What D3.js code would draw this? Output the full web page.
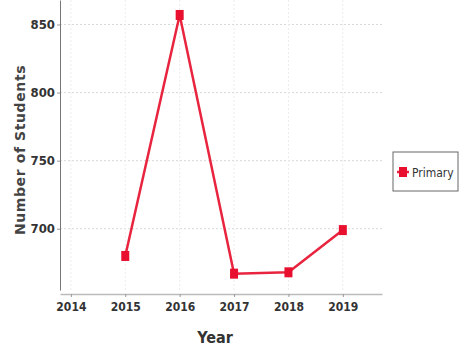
<!DOCTYPE html>
<html>
<head>
<meta charset="utf-8">
<script src="https://cdn.jsdelivr.net/npm/d3@7"></script>
<style>
  body { margin: 0; background: #fff; }
  text { font-family: "DejaVu Sans Condensed", "Liberation Sans Narrow", sans-serif; font-stretch: condensed; }
</style>
</head>
<body>
<div id="chart"></div>
<script>
const years = [2015, 2016, 2017, 2018, 2019];
const students = [680, 857, 667, 668, 699];
const xTicks = [2014, 2015, 2016, 2017, 2018, 2019];
const yTicks = [700, 750, 800, 850];
const seriesName = "Primary";

const W = 463, H = 347;
const margin = { top: 0, right: 81, bottom: 57, left: 60 };
const width = W - margin.left - margin.right;
const height = H - margin.top - margin.bottom;

const svg = d3.select("#chart")
  .append("svg")
    .attr("width", W)
    .attr("height", H);

const g = svg.append("g")
    .attr("transform", `translate(${margin.left},${margin.top})`);

const x = d3.scaleLinear()
    .domain([2013.8, 2019.72])
    .range([0, width]);

const y = d3.scaleLinear()
    .domain([655, 868])
    .range([height, 0]);

// grid
g.append("g")
  .selectAll("line")
  .data(yTicks)
  .join("line")
    .attr("x1", 0).attr("x2", width)
    .attr("y1", d => y(d)).attr("y2", d => y(d))
    .attr("stroke", "#d8d8d8")
    .attr("stroke-dasharray", "2,2");

g.append("g")
  .selectAll("line")
  .data(xTicks)
  .join("line")
    .attr("x1", d => x(d)).attr("x2", d => x(d))
    .attr("y1", 0).attr("y2", height)
    .attr("stroke", "#ececec")
    .attr("stroke-dasharray", "2,2");

// y axis
const yAxis = g.append("g")
    .call(d3.axisLeft(y).tickValues(yTicks).tickSize(3).tickSizeOuter(0));
yAxis.select(".domain").attr("stroke", "#777");
yAxis.selectAll(".tick line").attr("stroke", "#999");
yAxis.selectAll(".tick text")
    .attr("x", -5)
    .style("font-family", "'DejaVu Sans Condensed', sans-serif")
    .style("font-size", "13px")
    .style("font-weight", "bold")
    .attr("fill", "#333");

// x axis
const xAxis = g.append("g")
    .attr("transform", `translate(0,${height + 4})`)
    .call(d3.axisBottom(x).tickValues(xTicks).tickFormat(d3.format("d")).tickSize(3).tickSizeOuter(0));
xAxis.select(".domain").attr("stroke", "#bbb").attr("stroke-width", 1.5);
xAxis.selectAll(".tick line").attr("stroke", "#999");
xAxis.selectAll(".tick text")
    .attr("y", 8)
    .style("font-family", "'DejaVu Sans Condensed', sans-serif")
    .style("font-size", "12px")
    .style("font-weight", "bold")
    .attr("fill", "#333");

// axis titles
svg.append("text")
    .attr("transform", "rotate(-90)")
    .attr("x", -150)
    .attr("y", 25)
    .style("text-anchor", "middle")
    .style("font-family", "'DejaVu Sans', sans-serif")
    .style("font-stretch", "normal")
    .style("font-size", "14px")
    .style("font-weight", "bold")
    .style("letter-spacing", "0.6px")
    .attr("fill", "#444")
    .text("Number of Students");

svg.append("text")
    .attr("x", 215)
    .attr("y", 343)
    .style("text-anchor", "middle")
    .style("font-family", "'DejaVu Sans Condensed', sans-serif")
    .style("font-size", "16px")
    .style("font-weight", "bold")
    .attr("fill", "#333")
    .text("Year");

// line + markers
const data = years.map((yr, i) => ({ year: yr, value: students[i] }));
const red = "#e8243f";

g.append("path")
    .datum(data)
    .attr("fill", "none")
    .attr("stroke", red)
    .attr("stroke-width", 2.5)
    .attr("d", d3.line().x(d => x(d.year)).y(d => y(d.value)));

g.selectAll("rect.pt")
  .data(data)
  .join("rect")
    .attr("class", "pt")
    .attr("x", d => x(d.year) - 4)
    .attr("y", d => y(d.value) - 5)
    .attr("width", 8)
    .attr("height", 10)
    .attr("fill", "#e8102e");

// legend
const leg = svg.append("g").attr("transform", "translate(393,152)");
leg.append("rect")
    .attr("width", 65).attr("height", 39)
    .attr("fill", "#fff")
    .attr("stroke", "#666")
    .attr("stroke-width", 1);
leg.append("line")
    .attr("x1", 4).attr("x2", 16)
    .attr("y1", 20).attr("y2", 20)
    .attr("stroke", red).attr("stroke-width", 2.5);
leg.append("rect")
    .attr("x", 6).attr("y", 15)
    .attr("width", 8).attr("height", 10)
    .attr("fill", "#e8102e");
leg.append("text")
    .attr("x", 19).attr("y", 25)
    .style("font-size", "12px")
    .attr("fill", "#333")
    .text(seriesName);
</script>
</body>
</html>
